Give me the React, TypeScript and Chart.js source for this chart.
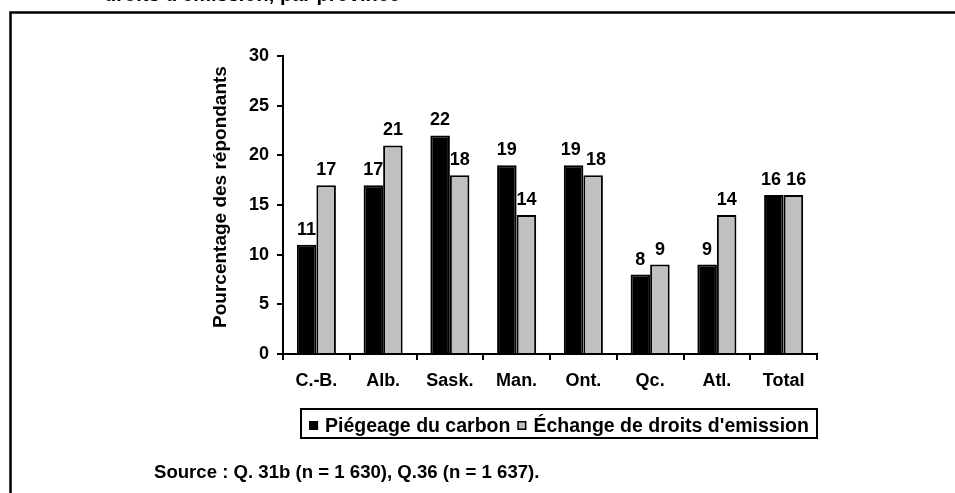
import React, { useEffect, useRef } from "react";
import { Chart, registerables } from "chart.js";

Chart.register(...registerables);

const categories = ["C.-B.", "Alb.", "Sask.", "Man.", "Ont.", "Qc.", "Atl.", "Total"];
const piegeage = [11, 17, 22, 19, 19, 8, 9, 16];
const echange = [17, 21, 18, 14, 18, 9, 14, 16];
const seriesLabels = ["Piégeage du carbon", "Échange de droits d'emission"];
const yTitle = "Pourcentage des répondants";
const titleFragment = "droits d'émission, par province";
const sourceText = "Source : Q. 31b (n = 1 630), Q.36 (n = 1 637).";

const FONT = "'Liberation Sans', Arial, sans-serif";

const decor = {
  id: "decor",
  beforeDraw(chart: any) {
    const { ctx, width, height } = chart;
    ctx.save();
    ctx.fillStyle = "#ffffff";
    ctx.fillRect(0, 0, width, height);
    ctx.restore();
  },
  afterDatasetsDraw(chart: any) {
    const { ctx } = chart;
    const size = 18;
    ctx.save();
    ctx.fillStyle = "#000";
    ctx.font = `bold ${size}px ${FONT}`;
    ctx.textAlign = "center";
    ctx.textBaseline = "alphabetic";
    const n = chart.data.labels.length;
    for (let j = 0; j < n; j++) {
      const items: any[] = [];
      chart.data.datasets.forEach((ds: any, i: number) => {
        const el = chart.getDatasetMeta(i).data[j];
        const text = String(ds.data[j]);
        items.push({ text, x: el.x, y: el.y - 10, w: ctx.measureText(text).width });
      });
      items.sort((a, b) => a.x - b.x);
      for (let k = 0; k + 1 < items.length; k++) {
        const a = items[k], b = items[k + 1];
        if (Math.abs(a.y - b.y) < size) {
          const need = a.w / 2 + b.w / 2 + 5 - (b.x - a.x);
          if (need > 0) {
            a.x -= need / 2;
            b.x += need / 2;
          }
        }
      }
      items.forEach((it) => ctx.fillText(it.text, it.x, it.y));
    }
    ctx.restore();
  },
  afterDraw(chart: any) {
    const { ctx, chartArea } = chart;
    ctx.save();
    // outer frame
    ctx.strokeStyle = "#000";
    ctx.lineWidth = 2.5;
    ctx.strokeRect(10.5, 12.5, 1000, 600);
    // clipped title fragment (only its lower edge shows at the top of the page)
    ctx.fillStyle = "#000";
    ctx.font = `bold 20px ${FONT}`;
    ctx.textAlign = "left";
    ctx.textBaseline = "alphabetic";
    ctx.fillText(titleFragment, 104, 1);
    // y-axis title
    ctx.save();
    ctx.font = `bold 19px ${FONT}`;
    ctx.textAlign = "center";
    ctx.textBaseline = "middle";
    ctx.translate(chartArea.left - 62, chartArea.top + (chartArea.bottom - chartArea.top) / 2 - 8);
    ctx.rotate(-Math.PI / 2);
    ctx.fillText(yTitle, 0, 0);
    ctx.restore();
    // source
    ctx.font = `bold 18.6px ${FONT}`;
    ctx.fillText(sourceText, 154, 478);
    // legend
    const bx = 301, by = 409, bw = 516, bh = 29;
    ctx.lineWidth = 2;
    ctx.strokeRect(bx, by, bw, bh);
    ctx.font = `bold 19.5px ${FONT}`;
    const ds = chart.data.datasets;
    const marker = 9, gapM = 7, gapItem = 7;
    const widths = ds.map((d: any) => ctx.measureText(d.label).width);
    const total = widths.reduce((a: number, b: number) => a + b, 0) + ds.length * (marker + gapM) + gapItem * (ds.length - 1);
    let x = bx + (bw - total) / 2;
    const baseY = 432;
    ds.forEach((d: any, i: number) => {
      ctx.fillStyle = d.backgroundColor;
      ctx.fillRect(x, baseY - 11, marker, marker);
      ctx.lineWidth = 1.5;
      ctx.strokeStyle = "#000";
      ctx.strokeRect(x + 0.75, baseY - 11 + 0.75, marker - 1.5, marker - 1.5);
      x += marker + gapM;
      ctx.fillStyle = "#000";
      ctx.fillText(d.label, x, baseY);
      x += widths[i] + gapItem;
    });
    ctx.restore();
  },
};

export default function App() {
  const ref = useRef<HTMLCanvasElement>(null);
  useEffect(() => {
    if (!ref.current) return;
    const tickFont = { family: FONT, weight: "bold" as const, size: 18 };
    const chart = new Chart(ref.current, {
      type: "bar",
      data: {
        labels: categories,
        datasets: [
          {
            label: seriesLabels[0],
            data: piegeage,
            backgroundColor: "#000000",
            borderColor: "#000000",
            borderWidth: 2,
            categoryPercentage: 0.585,
            barPercentage: 1.0,
          },
          {
            label: seriesLabels[1],
            data: echange,
            backgroundColor: "#c0c0c0",
            borderColor: "#000000",
            borderWidth: 2,
            categoryPercentage: 0.585,
            barPercentage: 1.0,
          },
        ],
      },
      options: {
        animation: false,
        responsive: false,
        devicePixelRatio: 1,
        layout: { padding: { left: 205, top: 56, right: 138, bottom: 99 } },
        plugins: { legend: { display: false }, tooltip: { enabled: false } },
        scales: {
          x: {
            afterFit: (s: any) => {
              s.height = 40;
            },
            grid: { offset: true, drawOnChartArea: false, drawTicks: true, tickLength: 6, color: "#000", lineWidth: 2 },
            border: { display: true, color: "#000", width: 2 },
            ticks: { color: "#000", font: tickFont, padding: 10, maxRotation: 0, autoSkip: false },
          },
          y: {
            min: 0,
            max: 30,
            afterFit: (s: any) => {
              s.width = 78;
            },
            grid: { drawOnChartArea: false, drawTicks: true, tickLength: 6, color: "#000", lineWidth: 2 },
            border: { display: true, color: "#000", width: 2 },
            ticks: { color: "#000", font: tickFont, padding: 8, stepSize: 5 },
            title: { display: false, text: yTitle },
          },
        },
      },
      plugins: [decor],
    });
    return () => chart.destroy();
  }, []);
  return (
    <div style={{ position: "absolute", left: 0, top: 0, width: 955, height: 493, background: "#fff" }}>
      <canvas ref={ref} width={955} height={493} style={{ display: "block" }} />
    </div>
  );
}
